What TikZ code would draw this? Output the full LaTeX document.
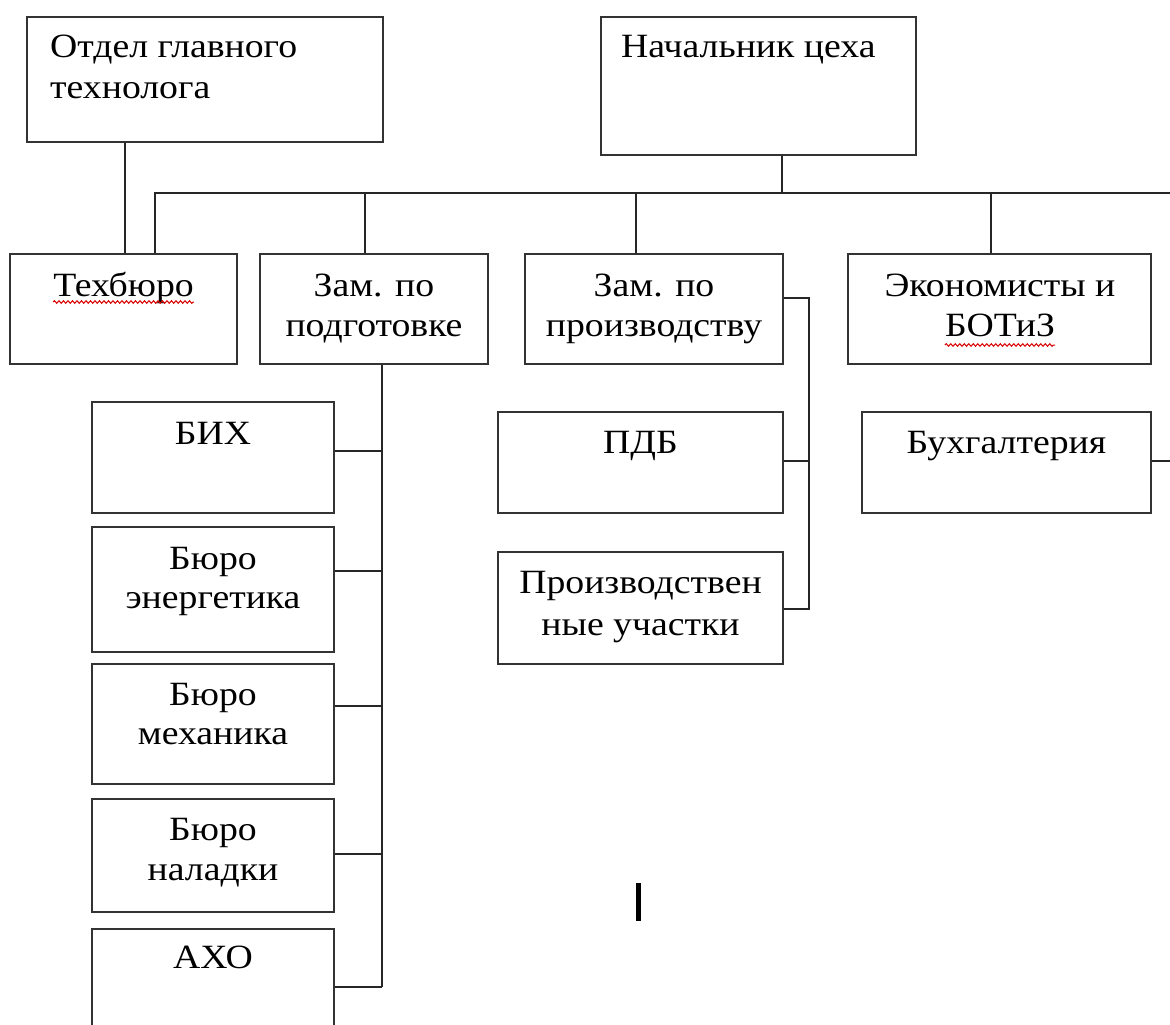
\documentclass[tikz,border=0pt]{standalone}
\usepackage{fontspec}
\setmainfont{Liberation Serif}[FakeStretch=1.11]
\usetikzlibrary{fit,calc,decorations.pathmorphing}
\begin{document}
\begin{tikzpicture}[x=1pt,y=-1pt,
  box/.style={draw=black!80, line width=1.7pt, inner sep=0pt},
  ln/.style={draw=black!85, line width=1.6pt},
  txt/.style={anchor=base, inner sep=0pt, font=\fontsize{34}{40}\selectfont},
  txtl/.style={txt, anchor=base west},
  spell/.style={draw=red!85!black, line width=1pt, decorate, decoration={snake, amplitude=1.3pt, segment length=4.5pt}}]
\useasboundingbox (0,0) rectangle (1170,1025);
% boxes
\node[box, fit={(27,17) (383,142)}] (otdel) {};
\node[box, fit={(601,17) (916,155)}] (nach) {};
\node[box, fit={(10,254) (237,364)}] (tb) {};
\node[box, fit={(260,254) (488,364)}] (zp) {};
\node[box, fit={(525,254) (783,364)}] (zpr) {};
\node[box, fit={(848,254) (1151,364)}] (ek) {};
\node[box, fit={(498,412) (783,513)}] (pdb) {};
\node[box, fit={(498,552) (783,664)}] (pu) {};
\node[box, fit={(862,412) (1151,513)}] (buh) {};
\node[box, fit={(92,402) (334,513)}] (bix) {};
\node[box, fit={(92,527) (334,652)}] (be) {};
\node[box, fit={(92,664) (334,784)}] (bm) {};
\node[box, fit={(92,799) (334,912)}] (bn) {};
\node[box, fit={(92,929) (334,1060)}] (axo) {};
% texts
\node[txtl] (t1a) at (50,58) {Отдел главного};
\node[txtl] (t1b) at (50,98) {технолога};
\node[txtl] (t2) at (621,58) {Начальник цеха};
\node[txt] (t3) at (123.5,296) {Техбюро};
\node[txt] (t4a) at (374,296) {Зам. по};
\node[txt] (t4b) at (374,336) {подготовке};
\node[txt] (t5a) at (654,296) {Зам. по};
\node[txt] (t5b) at (654,336) {производству};
\node[txt] (t6a) at (1000,296) {Экономисты и};
\node[txt] (t6b) at (1000,336) {БОТиЗ};
\node[txt] (t7) at (640.5,453) {ПДБ};
\node[txt] (t8a) at (640.5,593) {Производствен};
\node[txt] (t8b) at (640.5,635) {ные участки};
\node[txt] (t9) at (1006.5,453) {Бухгалтерия};
\node[txt] (t10) at (213,444) {БИХ};
\node[txt] (t11a) at (213,569) {Бюро};
\node[txt] (t11b) at (213,608) {энергетика};
\node[txt] (t12a) at (213,705) {Бюро};
\node[txt] (t12b) at (213,744) {механика};
\node[txt] (t13a) at (213,840) {Бюро};
\node[txt] (t13b) at (213,880) {наладки};
\node[txt] (t14) at (213,968) {АХО};
% spell-check underlines
\draw[spell] ($(t3.base west)+(0,6)$) -- ($(t3.base east)+(0,6)$);
\draw[spell] ($(t6b.base west)+(0,9)$) -- ($(t6b.base east)+(0,9)$);
% coordinates
\coordinate (xa) at (125,0);
\coordinate (xn) at (782,0);
\coordinate (busL) at (155,193);
\coordinate (busR) at (1170,193);
\coordinate (x2) at (365,0);
\coordinate (x3) at (636,0);
\coordinate (x4) at (991,0);
\coordinate (xv) at (382,0);
\coordinate (c1) at (382,451);
\coordinate (c2) at (382,571);
\coordinate (c3) at (382,706);
\coordinate (c4) at (382,854);
\coordinate (c5) at (382,987);
\coordinate (pr1) at (809,298);
\coordinate (pr2) at (809,461);
\coordinate (pr3) at (809,609);
\coordinate (bh) at (1170,461);
% connectors
\draw[ln] (otdel.south -| xa) -- (tb.north -| xa);
\draw[ln] (nach.south -| xn) -- (xn |- busL);
\draw[ln] (tb.north -| busL) -- (busL) -- (busR);
\draw[ln] (zp.north -| x2) -- (x2 |- busL);
\draw[ln] (zpr.north -| x3) -- (x3 |- busL);
\draw[ln] (ek.north -| x4) -- (x4 |- busL);
\draw[ln] (zp.south -| xv) -- (c5);
\draw[ln] (c1) -- (bix.east |- c1);
\draw[ln] (c2) -- (be.east |- c2);
\draw[ln] (c3) -- (bm.east |- c3);
\draw[ln] (c4) -- (bn.east |- c4);
\draw[ln] (c5) -- (axo.east |- c5);
\draw[ln] (zpr.east |- pr1) -- (pr1) -- (pr3) -- (pu.east |- pr3);
\draw[ln] (pr2) -- (pdb.east |- pr2);
\draw[ln] (buh.east |- bh) -- (bh);
% text cursor
\fill[black] (635.5,883) rectangle (640.5,921);
\end{tikzpicture}
\end{document}
